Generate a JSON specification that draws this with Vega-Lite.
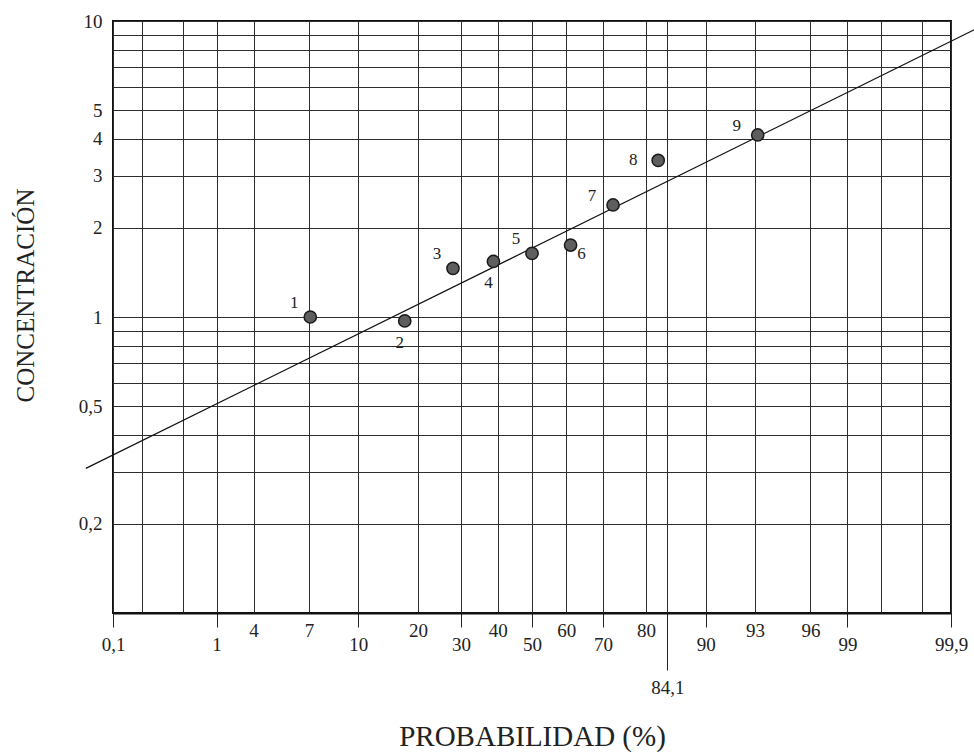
{
  "$schema": "https://vega.github.io/schema/vega-lite/v6.json",
  "description": "Gráfico de probabilidad normal: concentración (escala log) frente a probabilidad acumulada (escala probit).",
  "width": 838,
  "height": 592,
  "autosize": {"type": "none"},
  "padding": {"left": 113, "top": 21, "right": 23, "bottom": 142},
  "background": "white",
  "config": {
    "view": {"stroke": "#111111", "strokeWidth": 2},
    "font": "Liberation Serif",
    "axis": {"labelFont": "Liberation Serif", "titleFont": "Liberation Serif"},
    "text": {"font": "Liberation Serif"}
  },
  "datasets": {
    "muestras": [
      {"n": 1, "prob": 5.1, "conc": 1.0},
      {"n": 2, "prob": 17.4, "conc": 0.97},
      {"n": 3, "prob": 28.0, "conc": 1.46},
      {"n": 4, "prob": 38.8, "conc": 1.54},
      {"n": 5, "prob": 50.0, "conc": 1.64},
      {"n": 6, "prob": 61.2, "conc": 1.75},
      {"n": 7, "prob": 72.5, "conc": 2.39},
      {"n": 8, "prob": 82.4, "conc": 3.38},
      {"n": 9, "prob": 95.2, "conc": 4.12}
    ],
    "ajuste": [
      {"prob": 0.05, "conc": 0.308},
      {"prob": 99.95, "conc": 9.48}
    ]
  },
  "encoding": {
    "x": {
      "field": "z",
      "type": "quantitative",
      "scale": {"domain": [-3.0902, 3.0902], "nice": false, "zero": false},
      "axis": {
        "title": "PROBABILIDAD (%)",
        "values": [-3.0902, -2.8782, -2.5758, -2.3263, -2.0537, -1.6449, -1.2816, -0.8416, -0.5244, -0.2533, 0, 0.2533, 0.5244, 0.8416, 0.9986, 1.2816, 1.6449, 2.0537, 2.3263, 2.5758, 2.8782, 3.0902],
        "grid": true,
        "gridColor": "#2e2e2e",
        "gridWidth": 1,
        "domain": true,
        "domainColor": "#111111",
        "domainWidth": 2,
        "ticks": true,
        "tickColor": "#222222",
        "tickWidth": 1,
        "tickSize": {
          "condition": [
            {"test": "round(cumulativeNormal(datum.value)*1000)/10 == 84.1", "value": 57},
            {"test": "indexof([0.1, 1, 10, 30, 50, 70, 90, 99, 99.9], round(cumulativeNormal(datum.value)*1000)/10) >= 0", "value": 14}
          ],
          "value": 0
        },
        "labelPadding": 8,
        "labelExpr": "indexof([0.2, 0.5, 99.5, 99.8], round(cumulativeNormal(datum.value)*1000)/10) >= 0 ? '' : round(cumulativeNormal(datum.value)*1000)/10 == 2 ? '4' : round(cumulativeNormal(datum.value)*1000)/10 == 5 ? '7' : round(cumulativeNormal(datum.value)*1000)/10 == 95 ? '93' : round(cumulativeNormal(datum.value)*1000)/10 == 98 ? '96' : replace((round(cumulativeNormal(datum.value)*1000)/10) + '', '.', ',')",
        "labelFont": "Liberation Serif",
        "labelFontSize": 19,
        "labelColor": "#222222",
        "labelOverlap": false,
        "labelFlush": false,
        "titleFont": "Liberation Serif",
        "titleFontSize": 29,
        "titleFontWeight": "normal",
        "titleColor": "#222222",
        "titleY": 132,
        "titleBaseline": "alphabetic"
      }
    },
    "y": {
      "field": "conc",
      "type": "quantitative",
      "scale": {"type": "log", "domain": [0.1, 10], "nice": false},
      "axis": {
        "title": "CONCENTRACIÓN",
        "values": [0.1, 0.2, 0.3, 0.4, 0.5, 0.6, 0.7, 0.8, 0.9, 1, 2, 3, 4, 5, 6, 7, 8, 9, 10],
        "grid": true,
        "gridColor": "#2e2e2e",
        "gridWidth": 1,
        "domain": false,
        "ticks": false,
        "labelPadding": 11,
        "labelExpr": "indexof([0.2, 0.5, 1, 2, 3, 4, 5, 10], datum.value) >= 0 ? replace(datum.value + '', '.', ',') : ''",
        "labelFont": "Liberation Serif",
        "labelFontSize": 19,
        "labelColor": "#222222",
        "labelOverlap": false,
        "labelFlush": false,
        "titleFont": "Liberation Serif",
        "titleFontSize": 25,
        "titleFontWeight": "normal",
        "titleColor": "#222222",
        "titleX": -80,
        "titleY": 274,
        "titleBaseline": "alphabetic"
      }
    }
  },
  "layer": [
    {
      "data": {"name": "ajuste"},
      "transform": [{"calculate": "quantileNormal(datum.prob / 100)", "as": "z"}],
      "mark": {"type": "line", "color": "#111111", "strokeWidth": 1.2}
    },
    {
      "data": {"name": "muestras"},
      "transform": [{"calculate": "quantileNormal(datum.prob / 100)", "as": "z"}],
      "layer": [
        {
          "mark": {"type": "point", "shape": "circle", "filled": true, "size": 150, "fill": "#5e5e5e", "stroke": "#1a1a1a", "strokeWidth": 1.5, "opacity": 1}
        },
        {
          "transform": [{"filter": {"field": "n", "oneOf": [1, 3, 5]}}],
          "mark": {"type": "text", "font": "Liberation Serif", "fontSize": 17, "color": "#222222", "dx": -16, "dy": -14, "baseline": "middle", "align": "center"},
          "encoding": {"text": {"field": "n", "type": "nominal"}}
        },
        {
          "transform": [{"filter": {"field": "n", "oneOf": [2, 4]}}],
          "mark": {"type": "text", "font": "Liberation Serif", "fontSize": 17, "color": "#222222", "dx": -5, "dy": 22, "baseline": "middle", "align": "center"},
          "encoding": {"text": {"field": "n", "type": "nominal"}}
        },
        {
          "transform": [{"filter": {"field": "n", "oneOf": [6]}}],
          "mark": {"type": "text", "font": "Liberation Serif", "fontSize": 17, "color": "#222222", "dx": 11, "dy": 9, "baseline": "middle", "align": "center"},
          "encoding": {"text": {"field": "n", "type": "nominal"}}
        },
        {
          "transform": [{"filter": {"field": "n", "oneOf": [7, 9]}}],
          "mark": {"type": "text", "font": "Liberation Serif", "fontSize": 17, "color": "#222222", "dx": -21, "dy": -9, "baseline": "middle", "align": "center"},
          "encoding": {"text": {"field": "n", "type": "nominal"}}
        },
        {
          "transform": [{"filter": {"field": "n", "oneOf": [8]}}],
          "mark": {"type": "text", "font": "Liberation Serif", "fontSize": 17, "color": "#222222", "dx": -25, "dy": 0, "baseline": "middle", "align": "center"},
          "encoding": {"text": {"field": "n", "type": "nominal"}}
        }
      ]
    }
  ]
}
